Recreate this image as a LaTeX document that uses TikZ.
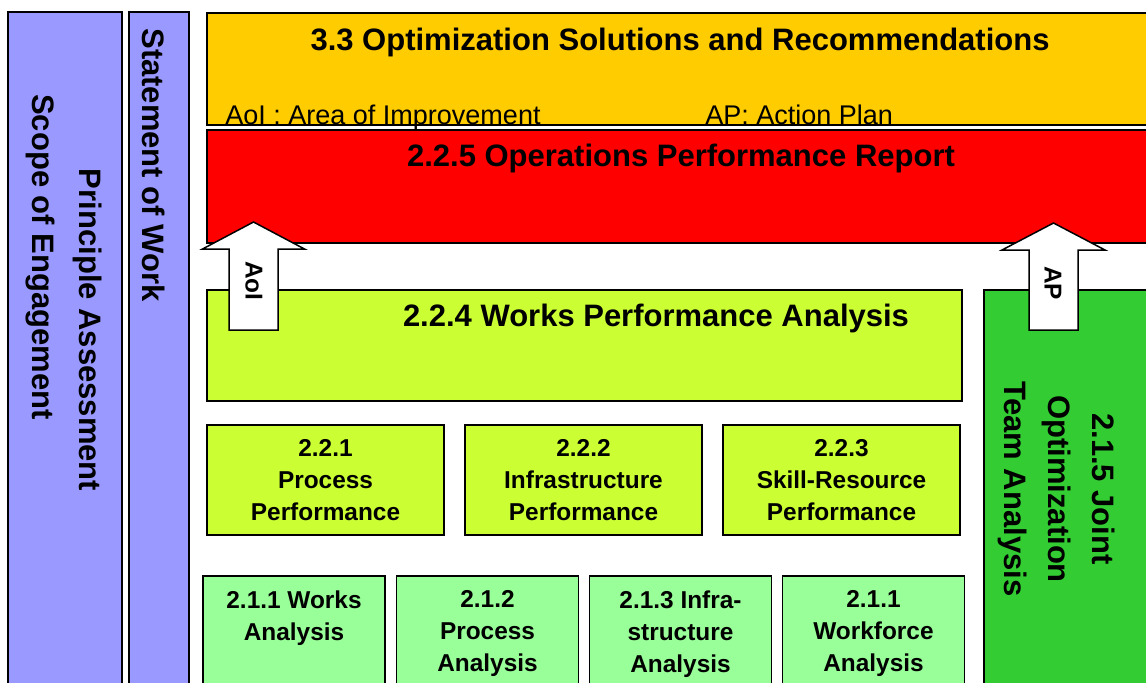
\documentclass[tikz,border=0pt]{standalone}
\usepackage{fontspec}
\setmainfont{Liberation Sans}
\usetikzlibrary{positioning}

\definecolor{lilac}{HTML}{9999FF}
\definecolor{amber}{HTML}{FFCC00}
\definecolor{alarm}{HTML}{FF0000}
\definecolor{lime}{HTML}{CCFF33}
\definecolor{mint}{HTML}{99FF99}
\definecolor{leaf}{HTML}{33CC33}

\begin{document}
\begin{tikzpicture}[x=0.5pt,y=-0.5pt,
  box/.style={draw=black,line width=0.75pt,inner sep=0pt},
  headtext/.style={font=\fontsize{15.5}{19}\selectfont\bfseries,inner sep=0pt},
  subtext/.style={font=\fontsize{12.2}{16}\selectfont\bfseries,align=center,inner sep=0pt},
  sidetext/.style={font=\fontsize{15.5}{22}\selectfont\bfseries,rotate=-90,align=center,inner sep=0pt},
  legendtext/.style={font=\fontsize{13.5}{16}\selectfont,anchor=base west,inner sep=0pt},
  blockarrow/.style={draw=black,line width=0.75pt,fill=white,line join=miter}]
\useasboundingbox (0,0) rectangle (1146,682);
\clip (0,0) rectangle (1146,682);

% side bars
\node[box,fill=lilac,minimum width=57pt,minimum height=344pt] (scope) at (65,356) {};
\node[box,fill=lilac,minimum width=30pt,minimum height=344pt] (sow) at (159,356) {};
\node[sidetext] (scopelbl) at (40,257) {Scope of Engagement};
\node[sidetext] (principlelbl) at (88,330) {Principle Assessment};
\node[sidetext] (sowlbl) at (154,165) {Statement of Work};

% report layers
\node[box,fill=amber,minimum width=476.5pt,minimum height=56pt] (optim) at (683.5,69) {};
\node[headtext] (optimlbl) at (680,42) {3.3 Optimization Solutions and Recommendations};
\node[legendtext] (aoikey) at (225,124) {AoI : Area of Improvement};
\node[legendtext] (apkey) at (705,124) {AP: Action Plan};
\node[box,fill=alarm,minimum width=476.5pt,minimum height=56.5pt] (report) at (683.5,186.5) {};
\node[headtext] (reportlbl) at (681,158) {2.2.5 Operations Performance Report};

% analysis blocks
\node[box,fill=lime,minimum width=377.5pt,minimum height=55.5pt] (works) at (584.5,345.5) {};
\node[headtext] (workslbl) at (656,318) {2.2.4 Works Performance Analysis};
\node[box,fill=leaf,minimum width=88pt,minimum height=205pt] (joint) at (1072,495) {};
\node[sidetext] (jointlbl) at (1057,489) {2.1.5 Joint\\Optimization\\Team Analysis};

\node[box,subtext,fill=lime,minimum width=118.5pt,minimum height=55pt] (proc) at (325.5,480) {2.2.1\\Process\\Performance};
\node[box,subtext,fill=lime,minimum width=118.5pt,minimum height=55pt] (infra) at (583.5,480) {2.2.2\\Infrastructure\\Performance};
\node[box,subtext,fill=lime,minimum width=118.5pt,minimum height=55pt] (skill) at (841.5,480) {2.2.3\\Skill-Resource\\Performance};

\node[box,fill=mint,minimum width=91pt,minimum height=62pt] (wa) at (294,638) {};
\node[box,fill=mint,minimum width=91pt,minimum height=62pt] (pa) at (487.5,638) {};
\node[box,fill=mint,minimum width=91pt,minimum height=62pt] (ia) at (680.5,638) {};
\node[box,fill=mint,minimum width=91pt,minimum height=62pt] (fa) at (873.5,638) {};
\node[subtext,anchor=north] (walbl) at (294,590) {2.1.1 Works\\Analysis};
\node[subtext,anchor=north] (palbl) at (487.5,590) {2.1.2\\Process\\Analysis};
\node[subtext,anchor=north] (ialbl) at (680.5,590) {2.1.3 Infra-\\structure\\Analysis};
\node[subtext,anchor=north] (falbl) at (873.5,590) {2.1.1\\Workforce\\Analysis};

% feedback arrows
\coordinate (aoitip) at (253.5,222);
\coordinate (aptip) at (1053.5,223);
\draw[blockarrow] (aoitip) -- ++(51,27) -- ++(-26.5,0) -- ++(0,81) -- ++(-49,0) -- ++(0,-81) -- ++(-26.5,0) -- cycle;
\draw[blockarrow] (aptip) -- ++(51.5,27) -- ++(-27,0) -- ++(0,80) -- ++(-49,0) -- ++(0,-80) -- ++(-27,0) -- cycle;
\node[subtext,rotate=-90] (aoilbl) at (254,281) {AoI};
\node[subtext,rotate=-90] (aplbl) at (1053,283) {AP};
\end{tikzpicture}
\end{document}
